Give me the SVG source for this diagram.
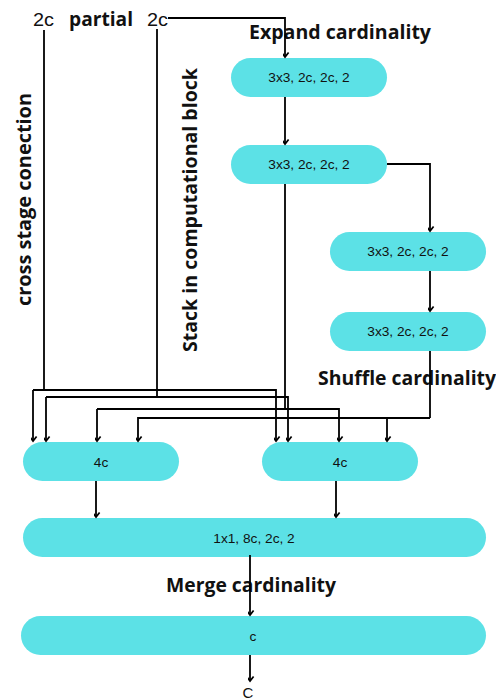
<svg xmlns="http://www.w3.org/2000/svg" width="496" height="700" viewBox="0 0 496 700">
  <defs>
    <marker id="arrow" viewBox="-6 -6 12 8" markerWidth="12" markerHeight="8" refX="0" refY="0" orient="auto-start-reverse" markerUnits="userSpaceOnUse">
      <path d="M-3.6,-4.6 L0,0 L3.6,-4.6" fill="none" stroke="#000" stroke-width="1.7" transform="rotate(-90)"/>
    </marker>
    <style>
      .box { fill: #5ce1e6; }
      .lbl { font-family: "Liberation Sans", Arial, sans-serif; font-size: 13.7px; fill: #111; text-anchor: middle; }
      .top { font-family: "Liberation Sans", Arial, sans-serif; font-size: 18px; fill: #111; }
      .bold { font-family: "Open Sans", "Liberation Sans", sans-serif; font-weight: bold; font-size: 19px; fill: #111; }
      .wire { fill: none; stroke: #000; stroke-width: 1.8; }
      .arr { fill: none; stroke: #000; stroke-width: 1.8; marker-end: url(#arrow); }
    </style>
  </defs>
  <rect width="496" height="700" fill="#fff"/>

  <!-- headings and side captions -->
  <g id="captions">
    <text class="top" x="33" y="26" textLength="21" lengthAdjust="spacingAndGlyphs">2c</text>
    <text class="bold" x="69" y="26" textLength="64" lengthAdjust="spacingAndGlyphs">partial</text>
    <text class="top" x="147" y="26" textLength="21" lengthAdjust="spacingAndGlyphs">2c</text>
    <text class="bold" x="249" y="39" textLength="182" lengthAdjust="spacingAndGlyphs">Expand cardinality</text>
    <text class="bold" x="318" y="385" textLength="178" lengthAdjust="spacingAndGlyphs">Shuffle cardinality</text>
    <text class="bold" x="166" y="592" textLength="170" lengthAdjust="spacingAndGlyphs">Merge cardinality</text>
    <text class="bold" transform="translate(31,306) rotate(-90)" textLength="213" lengthAdjust="spacingAndGlyphs">cross stage conection</text>
    <text class="bold" transform="translate(197,352) rotate(-90)" textLength="284" lengthAdjust="spacingAndGlyphs">Stack in computational block</text>
  </g>

  <!-- nodes -->
  <g id="expand1"><rect class="box" x="231" y="58" width="156" height="39" rx="19.5"/><text class="lbl" x="309" y="82">3x3, 2c, 2c, 2</text></g>
  <g id="expand2"><rect class="box" x="231" y="145" width="156" height="39" rx="19.5"/><text class="lbl" x="309" y="169">3x3, 2c, 2c, 2</text></g>
  <g id="shuffle1"><rect class="box" x="330" y="232" width="156" height="39" rx="19.5"/><text class="lbl" x="408" y="256">3x3, 2c, 2c, 2</text></g>
  <g id="shuffle2"><rect class="box" x="330" y="312" width="156" height="39" rx="19.5"/><text class="lbl" x="408" y="336">3x3, 2c, 2c, 2</text></g>
  <g id="concat-left"><rect class="box" x="23" y="442" width="156" height="39" rx="19.5"/><text class="lbl" x="101" y="467">4c</text></g>
  <g id="concat-right"><rect class="box" x="262" y="442" width="156" height="39" rx="19.5"/><text class="lbl" x="340" y="467">4c</text></g>
  <g id="merge"><rect class="box" x="23" y="518" width="463" height="39" rx="19.5"/><text class="lbl" x="254" y="543">1x1, 8c, 2c, 2</text></g>
  <g id="output"><rect class="box" x="21" y="616" width="465" height="39" rx="19.5"/><text class="lbl" x="253" y="641">c</text></g>
  <g id="result"><text class="lbl" x="248" y="698" style="font-size:15px">C</text></g>

  <!-- connectors -->
  <g id="connectors">
    <!-- partial input into the computational block -->
    <path class="arr" d="M168,18 H285 V57"/>
    <path class="arr" d="M285,97 V144"/>
    <path class="arr" d="M387,164 H430 V231"/>
    <path class="arr" d="M430,271 V311"/>

    <!-- cross stage connection (left 2c) -->
    <path class="wire" d="M44,30 V390"/>
    <path class="arr" d="M33,390 H276 V441"/>
    <path class="arr" d="M33,390 V441"/>

    <!-- stacked path (right 2c) -->
    <path class="wire" d="M157,29 V397"/>
    <path class="arr" d="M46,397 H288 V441"/>
    <path class="arr" d="M46,397 V441"/>

    <!-- expand output -->
    <path class="wire" d="M285,184 V409"/>
    <path class="arr" d="M97,409 H339 V441"/>
    <path class="arr" d="M97,409 V441"/>

    <!-- shuffle output -->
    <path class="wire" d="M430,351 V418"/>
    <path class="arr" d="M430,418 H138 V441"/>
    <path class="arr" d="M387,418 V441"/>

    <!-- merge and output -->
    <path class="arr" d="M96,481 V517"/>
    <path class="arr" d="M336,481 V517"/>
    <path class="arr" d="M250,555 V615"/>
    <path class="arr" d="M250,655 V681"/>
  </g>
</svg>
